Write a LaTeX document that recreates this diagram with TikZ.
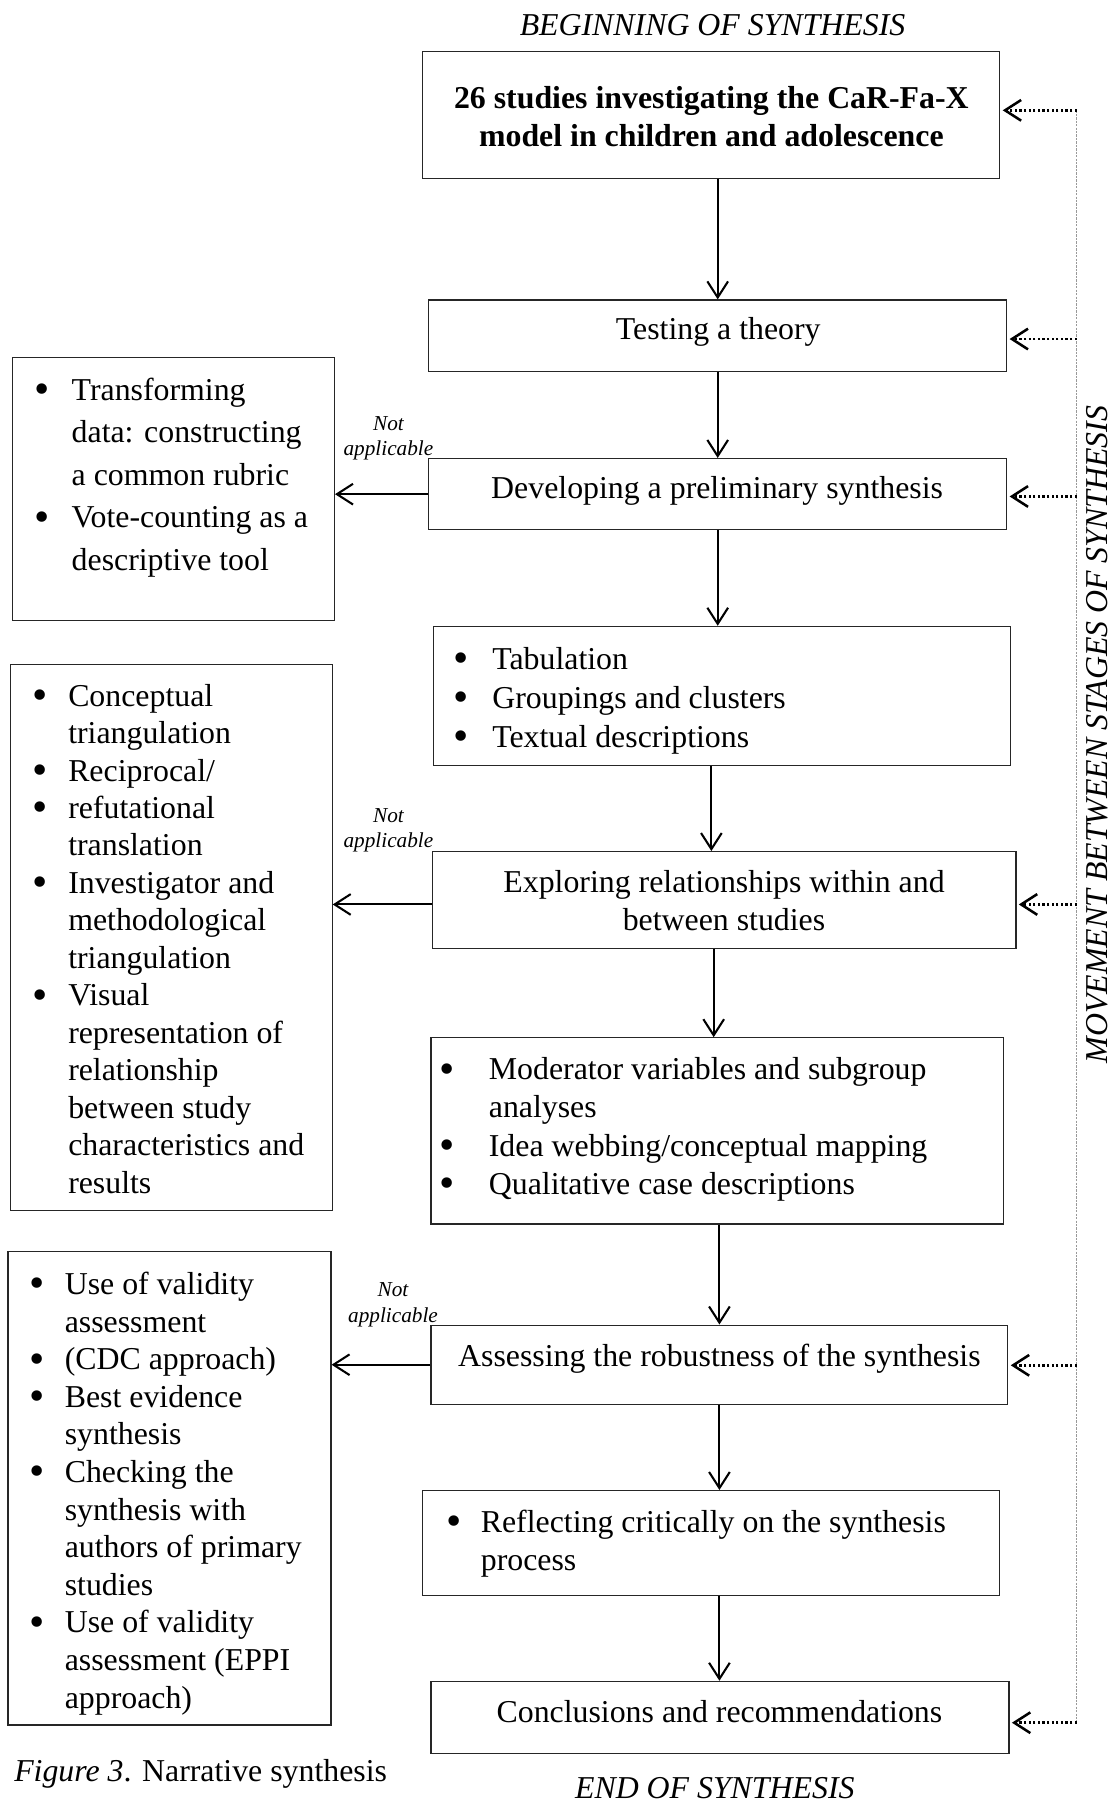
\documentclass[tikz,border=0pt]{standalone}
\usepackage{fontspec}
\setmainfont{Liberation Serif}
\usetikzlibrary{arrows.meta,fit}
% large bullet hanging to the left of the item text
\newcommand\bl[1]{\llap{\smash{\raisebox{-1.5pt}{\scalebox{1.37}{•}}}\hspace{#1}}}
% strut fixing the height of a first line
\newcommand\fl{\rule{0pt}{10.4pt}}
\newcommand\fs[1]{\fontsize{13.85pt}{#1}\selectfont}
\begin{document}
\begin{tikzpicture}[x=0.5pt,y=-0.5pt,
  box/.style={draw=black!85, line width=0.5pt, inner sep=0pt},
  txt/.style={font=\fs{16.4pt}, inner sep=0pt, align=left},
  arr/.style={-{Straight Barb[length=7pt,width=9pt]}, line width=0.9pt},
  fb/.style={arr, line width=1.1pt, dash pattern=on 1pt off 1pt, shorten >=1pt},
  fbline/.style={draw=black!40, line width=0.5pt, dash pattern=on 1pt off 0.5pt},
  na/.style={font=\fontsize{9.25pt}{11pt}\selectfont\itshape, align=center, inner sep=0pt}]
\useasboundingbox (0,0) rectangle (968,1568);

% stage boxes
\node[box, fit={(368,45)(870,155)}] (A) {};
\node[box, fit={(373,261)(876,323)}] (B) {};
\node[box, fit={(373,399)(876,461)}] (C) {};
\node[box, fit={(377,545)(879,666)}] (D) {};
\node[box, fit={(376,741)(884,825)}] (E) {};
\node[box, fit={(375,903)(873,1065)}] (F) {};
\node[box, fit={(375,1153)(877,1222)}] (G) {};
\node[box, fit={(368,1297)(870,1388)}] (H) {};
\node[box, fit={(375,1463)(878,1526)}] (I) {};
% tool boxes on the left
\node[box, fit={(11,311)(291,540)}] (L1) {};
\node[box, fit={(9,578)(289,1053)}] (L2) {};
\node[box, fit={(7,1089)(288,1501)}] (L3) {};

% texts of the stage boxes
\node[txt, anchor=north, align=center, font=\fs{16.5pt}\bfseries] (tA) at (619,73.2)
  {\fl 26 studies investigating the CaR-Fa-X\\model in children and adolescence};
\node[txt, anchor=base] (tB) at (625,295) {Testing a theory};
\node[txt, anchor=base] (tC) at (624,434) {Developing a preliminary synthesis};
\node[txt, anchor=north west, font=\fs{17pt}] (tD) at (428,561.2)
  {\fl\bl{10.2pt}Tabulation\\\bl{10.2pt}Groupings and clusters\\\bl{10.2pt}Textual descriptions};
\node[txt, anchor=north, align=center, font=\fs{16.5pt}] (tE) at (630,755.2)
  {\fl Exploring relationships within and\\between studies};
\node[txt, anchor=north west, font=\fs{16.67pt}] (tF) at (425,918.2)
  {\fl\bl{14.7pt}Moderator variables and subgroup\\analyses\\\bl{14.7pt}Idea webbing/conceptual mapping\\\bl{14.7pt}Qualitative case descriptions};
\node[txt, anchor=base] (tG) at (626,1189) {Assessing the robustness of the synthesis};
\node[txt, anchor=north west, font=\fs{16.5pt}] (tH) at (418,1312.2)
  {\fl\bl{8.2pt}Reflecting critically on the synthesis\\process};
\node[txt, anchor=base] (tI) at (626,1499) {Conclusions and recommendations};

% texts of the tool boxes
\node[txt, anchor=north west, font=\fs{18.5pt}] (tL1) at (62,327.2)
  {\fl\bl{9.7pt}Transforming\\data: constructing\\a common rubric\\\bl{9.7pt}Vote-counting as a\\descriptive tool};
\node[txt, anchor=north west, font=\fs{16.3pt}] (tL2) at (59,593.2)
  {\fl\bl{8.7pt}Conceptual\\triangulation\\\bl{8.7pt}Reciprocal/\\\bl{8.7pt}refutational\\translation\\
   \bl{8.7pt}Investigator and\\methodological\\triangulation\\\bl{8.7pt}Visual\\representation of\\
   relationship\\between study\\characteristics and\\results};
\node[txt, anchor=north west, font=\fs{16.36pt}] (tL3) at (56,1105.2)
  {\fl\bl{8.7pt}Use of validity\\assessment\\\bl{8.7pt}(CDC approach)\\\bl{8.7pt}Best evidence\\synthesis\\
   \bl{8.7pt}Checking the\\synthesis with\\authors of primary\\studies\\\bl{8.7pt}Use of validity\\
   assessment (EPPI\\approach)};

% labels on the side arrows
\node[na, anchor=north] (na1) at (338,360) {\rule{0pt}{7pt}Not\\applicable};
\node[na, anchor=north] (na2) at (338,701) {\rule{0pt}{7pt}Not\\applicable};
\node[na, anchor=north] (na3) at (342,1114) {\rule{0pt}{7pt}Not\\applicable};

% headings and caption
\node[txt, anchor=base, font=\fs{16.4pt}\itshape] (begin) at (620,31) {BEGINNING OF SYNTHESIS};
\node[txt, anchor=base, font=\fs{16.4pt}\itshape] (end) at (622,1565) {END OF SYNTHESIS};
\node[txt, anchor=base west] (caption) at (12,1550) {\textit{Figure 3}. Narrative synthesis};
\node[txt, anchor=base, rotate=90, font=\fs{16.4pt}\itshape] (move) at (964,639)
  {MOVEMENT BETWEEN STAGES OF SYNTHESIS};

% main flow
\draw[arr] (A.south -| B.north) -- (B.north);
\draw[arr] (B.south) -- (C.north);
\draw[arr] (C.south) -- (C.south |- D.north);
\draw[arr] ([xshift=-4.5pt]D.south) -- ([xshift=-4.5pt]D.south |- E.north);
\draw[arr] ([xshift=-4.5pt]E.south) -- ([xshift=-4.5pt]E.south |- F.north);
\draw[arr] (F.south -| G.north) -- (G.north);
\draw[arr] (G.south) -- (G.south |- H.north);
\draw[arr] (H.south -| G.south) -- (G.south |- I.north);

% branches to the left
\draw[arr] (C.west) -- (C.west -| L1.east);
\draw[arr] ([yshift=-2pt]E.west) -- ([yshift=-2pt]E.west -| L2.east);
\draw[arr] (G.west) -- (G.west -| L3.east);

% movement between stages
\coordinate (fA) at (937,96);
\coordinate (fB) at (937,295);
\coordinate (fC) at (937,432);
\coordinate (fE) at (937,787);
\coordinate (fG) at (937,1188);
\coordinate (fI) at (937,1499);
\draw[fbline] (fA) -- (fI);
\draw[fb] (fA) -- (fA -| A.east);
\draw[fb] (fB) -- (fB -| B.east);
\draw[fb] (fC) -- (fC -| C.east);
\draw[fb] (fE) -- (fE -| E.east);
\draw[fb] (fG) -- (fG -| G.east);
\draw[fb] (fI) -- (fI -| I.east);
\end{tikzpicture}
\end{document}
